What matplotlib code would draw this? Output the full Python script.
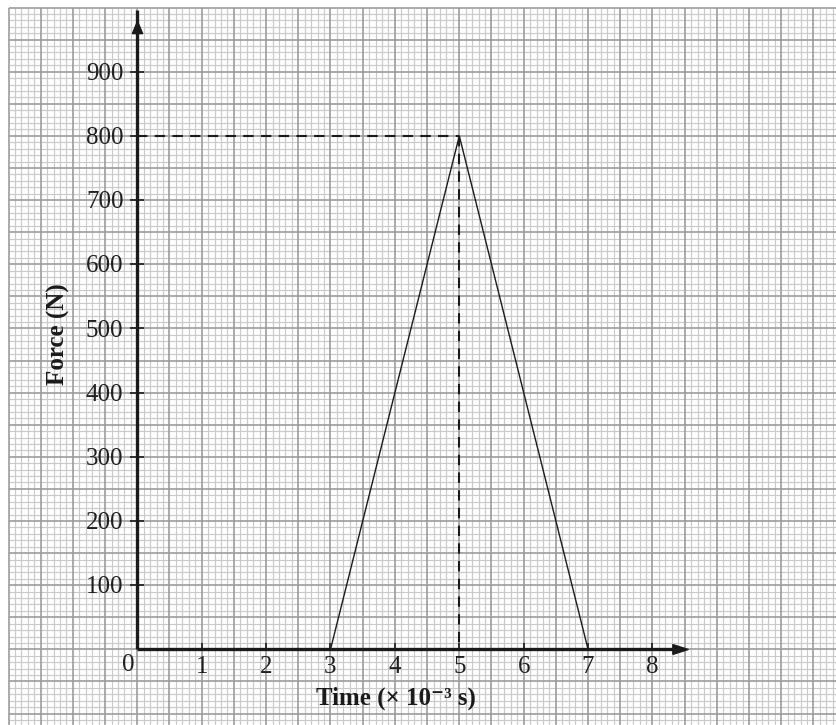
import numpy as np
import matplotlib.pyplot as plt

# force-time curve of the impact
time_ms = [3, 5, 7]
force_n = [0, 800, 0]
peak_time = 5
peak_force = 800

x_ticks = [1, 2, 3, 4, 5, 6, 7, 8]
y_ticks = [100, 200, 300, 400, 500, 600, 700, 800, 900]

serif = ['Liberation Serif', 'DejaVu Serif']
ink = '#1a1a1a'

fig = plt.figure(figsize=(8.37, 7.25), dpi=100)
ax = fig.add_axes([0, 0, 1, 1])
ax.set_xlim(-2.132, 10.865)
ax.set_ylim(-117.8, 1011.7)
ax.axis('off')

# graph paper: fine lines every 0.1 / 10 N, darker every 0.5 / 50 N
gx = np.round(np.arange(-2, 11.0, 0.1), 2)
gy = np.round(np.arange(-130, 1000.1, 10), 1)
minor_x = [v for v in gx if abs(v * 2 - round(v * 2)) > 1e-6]
major_x = [v for v in gx if abs(v * 2 - round(v * 2)) <= 1e-6]
minor_y = [v for v in gy if v % 50 != 0]
major_y = [v for v in gy if v % 50 == 0]
ax.vlines(minor_x, -130, 1000, colors='#cacaca', lw=0.85, zorder=1)
ax.hlines(minor_y, -2, 11, colors='#cacaca', lw=0.85, zorder=1)
ax.vlines(major_x, -130, 1000, colors='#9c9c9c', lw=1.2, zorder=2)
ax.hlines(major_y, -2, 11, colors='#9c9c9c', lw=1.2, zorder=2)

# axes with arrowheads
ax.plot([0, 0], [0, 996], color=ink, lw=2.4, zorder=5, solid_capstyle='butt')
ax.plot([0, 8.5], [0, 0], color=ink, lw=2.4, zorder=5, solid_capstyle='butt')
up = [(-0.42, -0.5), (0, 0.5), (0.42, -0.5), (-0.42, -0.5)]
right = [(-0.5, -0.32), (0.5, 0), (-0.5, 0.32), (-0.5, -0.32)]
ax.plot([0], [969], marker=up, markersize=8.8, color=ink, lw=0, zorder=6)
ax.plot([8.43], [0], marker=right, markersize=11, color=ink, lw=0, zorder=6)

# tick marks
ax.plot([0] * len(y_ticks), y_ticks, marker='_', markersize=9.5, mew=1.2,
        color=ink, lw=0, zorder=5)
ax.plot(x_ticks, [0] * len(x_ticks), marker=2, markersize=4, mew=1.2,
        color=ink, lw=0, zorder=5)

# tick labels
for v in y_ticks:
    ax.annotate(str(v), (0, v), xytext=(-10, -1.5), textcoords='offset points',
                ha='right', va='center', fontsize=18, family=serif,
                color='#1f1f1f', zorder=7)
for v in x_ticks:
    ax.annotate(str(v), (v, 0), xytext=(0, -12.5), textcoords='offset points',
                ha='center', va='center', fontsize=18, family=serif,
                color='#1f1f1f', zorder=7)
ax.annotate('0', (0, 0), xytext=(-6.5, -11.5), textcoords='offset points',
            ha='center', va='center', fontsize=18, family=serif,
            color='#1f1f1f', zorder=7)

# guide lines to the peak
ax.plot([0, peak_time], [peak_force, peak_force], color=ink, lw=1.5,
        dashes=(5, 3.5), zorder=4)
ax.plot([peak_time, peak_time], [peak_force, 0], color=ink, lw=1.5,
        dashes=(5, 3.5), zorder=4)

# the curve
ax.plot(time_ms, force_n, color=ink, lw=1.0, zorder=6)

ax.text(4.01, -76, 'Time (× 10⁻³ s)', ha='center', va='center',
        fontsize=18, fontweight='bold', family=serif, color=ink, zorder=7)
ax.text(-1.23, 491, 'Force (N)', ha='center', va='center', rotation=90,
        fontsize=18, fontweight='bold', family=serif, color=ink, zorder=7)

fig.savefig('out.png', dpi=100)
